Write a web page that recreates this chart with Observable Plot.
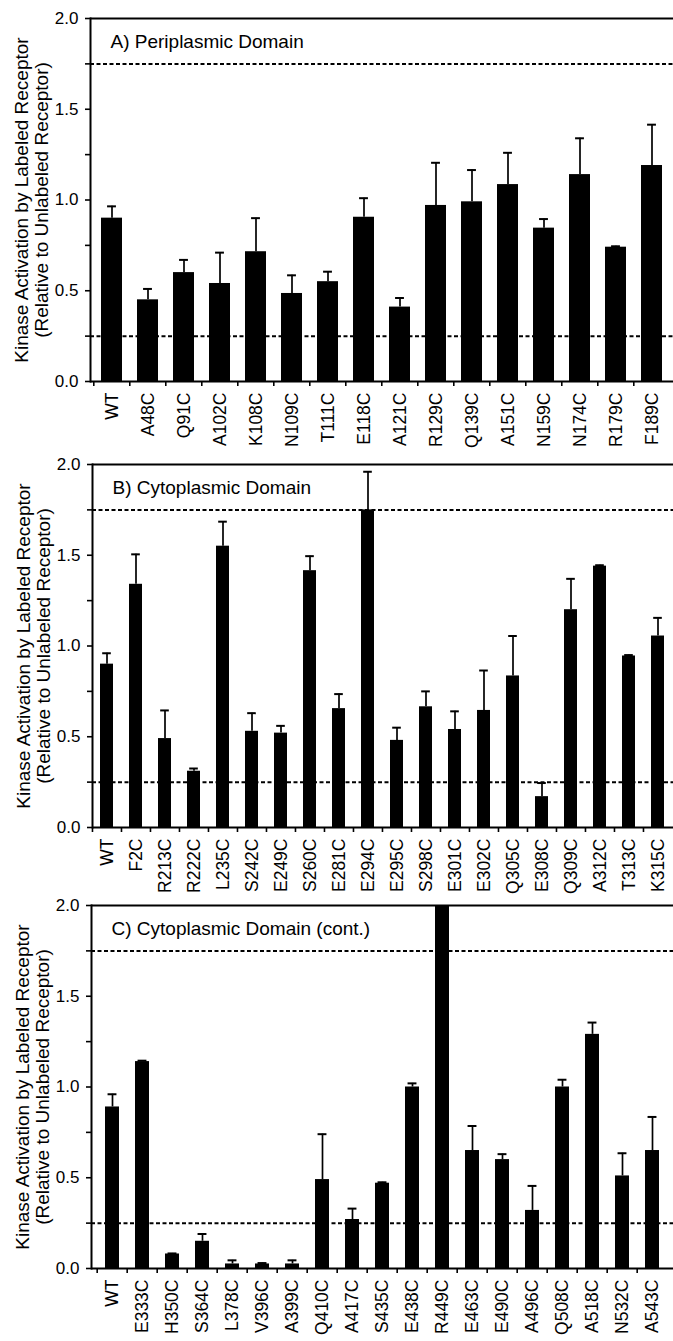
<!DOCTYPE html>
<html><head><meta charset="utf-8">
<script src="https://cdn.jsdelivr.net/npm/d3@7"></script>
<script src="https://cdn.jsdelivr.net/npm/@observablehq/plot@0.6"></script>
<style>
body{margin:0;background:#fff;font-family:"Liberation Sans",Arial,sans-serif}
#chart svg{display:block}
</style>
</head><body><div id="chart"></div>
<script>
// Panel A: Periplasmic Domain
const namesA = ["WT","A48C","Q91C","A102C","K108C","N109C","T111C","E118C","A121C","R129C","Q139C","A151C","N159C","N174C","R179C","F189C"];
const valuesA = [0.90,0.45,0.60,0.54,0.715,0.485,0.55,0.905,0.41,0.97,0.99,1.085,0.845,1.14,0.74,1.19];
const errorsA = [0.065,0.06,0.07,0.17,0.185,0.10,0.055,0.105,0.05,0.235,0.175,0.175,0.05,0.20,0.005,0.225];

// Panel B: Cytoplasmic Domain
const namesB = ["WT","F2C","R213C","R222C","L235C","S242C","E249C","S260C","E281C","E294C","E295C","S298C","E301C","E302C","Q305C","E308C","Q309C","A312C","T313C","K315C"];
const valuesB = [0.90,1.34,0.49,0.31,1.55,0.53,0.52,1.415,0.655,1.75,0.48,0.665,0.54,0.645,0.835,0.17,1.20,1.44,0.945,1.055];
const errorsB = [0.06,0.165,0.155,0.015,0.135,0.10,0.04,0.08,0.08,0.21,0.07,0.085,0.10,0.22,0.22,0.075,0.17,0.005,0.005,0.10];

// Panel C: Cytoplasmic Domain (cont.)
const namesC = ["WT","E333C","H350C","S364C","L378C","V396C","A399C","Q410C","A417C","S435C","E438C","R449C","E463C","E490C","A496C","Q508C","A518C","N532C","A543C"];
const valuesC = [0.89,1.14,0.08,0.15,0.025,0.025,0.025,0.49,0.27,0.47,1.00,2.0,0.65,0.60,0.32,1.00,1.29,0.51,0.65];
const errorsC = [0.07,0.005,0.003,0.04,0.02,0.005,0.02,0.25,0.06,0.005,0.02,0,0.135,0.03,0.135,0.04,0.065,0.125,0.185];

const titles = ["A) Periplasmic Domain","B) Cytoplasmic Domain","C) Cytoplasmic Domain (cont.)"];
const yTicks = [0,0.25,0.5,0.75,1,1.25,1.5,1.75,2];
const thresholds = [0.25,1.75];
const yLabel = "Kinase Activation by Labeled Receptor\n(Relative to Unlabeled Receptor)";

const FONT = "'Liberation Sans', Arial, Helvetica, sans-serif";

function panel(names, values, errors, title, height, marginBottom, marginLeft, padding) {
  const data = names.map((name, i) => ({name, value: values[i], hi: values[i] + errors[i]}));
  const width = 673;
  const step = (width - marginLeft) / names.length;
  const bw = step * (1 - padding);
  const capInset = Math.max(0, (bw - 9) / 2);
  return Plot.plot({
    width, height,
    marginTop: 18, marginRight: 0, marginBottom, marginLeft,
    style: {fontFamily: FONT, fontSize: "17px", color: "black", background: "white", overflow: "visible"},
    x: {domain: names, paddingInner: padding, paddingOuter: padding / 2, axis: null},
    y: {domain: [0, 2], axis: null},
    marks: [
      Plot.ruleY(thresholds, {stroke: "black", strokeWidth: 2, strokeDasharray: "4,2.5"}),
      Plot.barY(data, {x: "name", y: "value", fill: "black"}),
      Plot.ruleX(data.filter(d => d.hi > d.value), {x: "name", y1: "value", y2: "hi", stroke: "black", strokeWidth: 1.7}),
      Plot.tickY(data.filter(d => d.hi > d.value), {x: "name", y: "hi", stroke: "black", strokeWidth: 2, insetLeft: capInset, insetRight: capInset}),
      Plot.ruleY([0, 2], {stroke: "black", strokeWidth: 2}),
      Plot.frame({anchor: "left", stroke: "black", strokeWidth: 2}),
      Plot.axisY({ticks: yTicks, tickSize: 5, tickPadding: 7, strokeWidth: 1.6, fontSize: 17, label: null,
        tickFormat: d => (Math.round(d * 4) % 2 === 0) ? d.toFixed(1) : ""}),
      Plot.axisX({tickSize: 5, strokeWidth: 1.6, dx: -step / 2, tickFormat: () => "", label: null}),
      Plot.axisX({tickSize: 0, tickPadding: 11, tickRotate: -90, fontSize: 17.5, label: null}),
      Plot.text([yLabel], {frameAnchor: "left", textAnchor: "middle", rotate: -90, dx: -59, fontSize: 19, lineHeight: 1.05, fill: "black"}),
      Plot.text([title], {frameAnchor: "top-left", textAnchor: "start", lineAnchor: "top", dx: 20, dy: 16, fontSize: 19, fill: "black"})
    ]
  });
}

const root = document.getElementById("chart");
root.append(panel(namesA, valuesA, errorsA, titles[0], 446, 65, 90, 0.42));
root.append(panel(namesB, valuesB, errorsB, titles[1], 441, 60, 92, 0.54));
root.append(panel(namesC, valuesC, errorsC, titles[2], 454, 73, 91, 0.54));
</script>
</body></html>
